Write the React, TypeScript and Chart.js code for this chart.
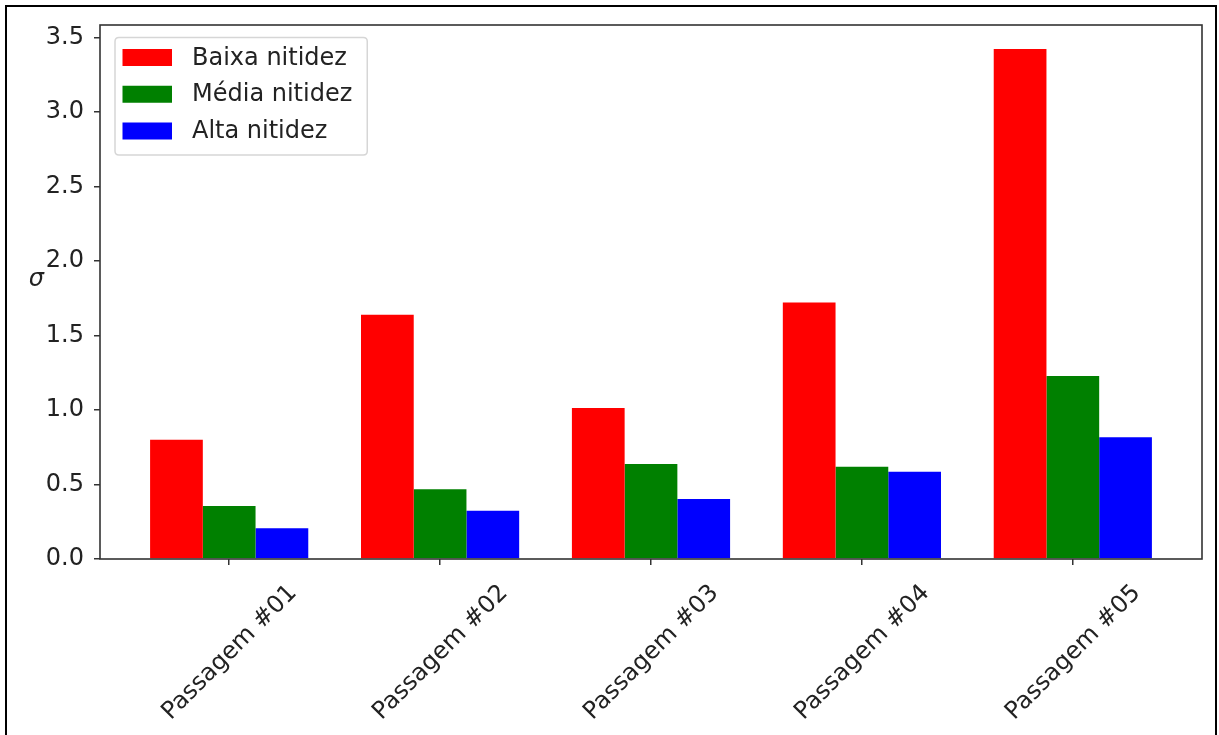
import React, { useEffect, useRef } from "react";
import { Chart, registerables } from "chart.js";

Chart.register(...registerables);

const CATEGORIES = ["Passagem #01", "Passagem #02", "Passagem #03", "Passagem #04", "Passagem #05"];
const BAIXA = [0.8, 1.64, 1.013, 1.722, 3.424];
const MEDIA = [0.355, 0.469, 0.637, 0.619, 1.229];
const ALTA = [0.206, 0.324, 0.402, 0.585, 0.818];
const SERIES_LABELS = ["Baixa nitidez", "Média nitidez", "Alta nitidez"];
const SERIES_COLORS = ["#ff0000", "#008000", "#0000ff"];
const Y_TICKS = [0, 0.5, 1.0, 1.5, 2.0, 2.5, 3.0, 3.5];
const Y_LABEL = "σ";

const FONT = '"DejaVu Sans", sans-serif';
const FS = 24;

const decorPlugin = {
  id: "decor",
  afterDatasetsDraw(chart: any) {
    const { ctx, chartArea: a } = chart;
    ctx.save();
    // spines
    ctx.strokeStyle = "#333";
    ctx.lineWidth = 1.6;
    ctx.strokeRect(a.left, a.top, a.right - a.left, a.bottom - a.top);

    // legend
    ctx.font = `${FS}px ${FONT}`;
    const ds = chart.data.datasets;
    const bx = a.left + 15;
    const by = a.top + 12.5;
    let maxW = 0;
    ds.forEach((d: any) => {
      maxW = Math.max(maxW, ctx.measureText(d.label).width);
    });
    const textX = bx + 77;
    const bw = 77 + maxW + 15;
    const rowH = 36.75;
    const bh = 20 + rowH * (ds.length - 1) + 24;
    ctx.beginPath();
    const r = 4;
    ctx.moveTo(bx + r, by);
    ctx.lineTo(bx + bw - r, by);
    ctx.quadraticCurveTo(bx + bw, by, bx + bw, by + r);
    ctx.lineTo(bx + bw, by + bh - r);
    ctx.quadraticCurveTo(bx + bw, by + bh, bx + bw - r, by + bh);
    ctx.lineTo(bx + r, by + bh);
    ctx.quadraticCurveTo(bx, by + bh, bx, by + bh - r);
    ctx.lineTo(bx, by + r);
    ctx.quadraticCurveTo(bx, by, bx + r, by);
    ctx.closePath();
    ctx.fillStyle = "rgba(255,255,255,0.8)";
    ctx.fill();
    ctx.strokeStyle = "#d6d6d6";
    ctx.lineWidth = 1.5;
    ctx.stroke();
    ds.forEach((d: any, i: number) => {
      const cy = by + 20 + rowH * i;
      ctx.fillStyle = d.backgroundColor;
      ctx.fillRect(bx + 7.5, cy - 8.5, 49.5, 17);
      ctx.fillStyle = "#222";
      ctx.textAlign = "left";
      ctx.textBaseline = "middle";
      ctx.fillText(d.label, textX, cy + 1);
    });

    // y label
    ctx.font = `italic ${FS}px ${FONT}`;
    ctx.fillStyle = "#222";
    ctx.textAlign = "right";
    ctx.textBaseline = "alphabetic";
    ctx.fillText(Y_LABEL, a.left - 56, (a.top + a.bottom) / 2 - 6);
    ctx.restore();
  },
};

export default function App() {
  const ref = useRef<HTMLCanvasElement | null>(null);

  useEffect(() => {
    document.body.style.margin = "0";
    document.documentElement.style.overflow = "hidden";
    document.body.style.overflow = "hidden";
    const canvas = ref.current;
    if (!canvas) return;
    const seriesValues = [BAIXA, MEDIA, ALTA];
    const chart = new Chart(canvas, {
      type: "bar",
      data: {
        datasets: seriesValues.map((vals, si) => ({
          label: SERIES_LABELS[si],
          data: vals.map((v, i) => ({ x: i, y: v })),
          backgroundColor: SERIES_COLORS[si],
          borderWidth: 0,
          categoryPercentage: 0.75,
          barPercentage: 1.0,
        })),
      },
      options: {
        animation: false,
        responsive: false,
        devicePixelRatio: 1,
        layout: { padding: { top: 25, right: 17, left: 0, bottom: 0 }, autoPadding: false },
        plugins: { legend: { display: false }, tooltip: { enabled: false } },
        scales: {
          x: {
            type: "linear",
            offset: false,
            min: -0.6125,
            max: 4.6125,
            afterBuildTicks: (scale: any) => {
              scale.ticks = CATEGORIES.map((_, i) => ({ value: i }));
            },
            afterFit: (scale: any) => {
              scale.height = 176;
            },
            grid: {
              offset: false,
              drawOnChartArea: false,
              drawTicks: true,
              tickLength: 6,
              color: "#333",
              lineWidth: 1.5,
            },
            border: { display: false },
            ticks: {
              autoSkip: false,
              minRotation: 45,
              maxRotation: 45,
              labelOffset: 64,
              padding: 14,
              color: "#222",
              font: { family: FONT, size: FS },
              callback: (_v: any, i: number) => CATEGORIES[i],
            },
          },
          y: {
            type: "linear",
            min: 0,
            max: 3.585,
            afterBuildTicks: (scale: any) => {
              scale.ticks = Y_TICKS.map((v) => ({ value: v }));
            },
            afterFit: (scale: any) => {
              scale.width = 100;
            },
            grid: {
              drawOnChartArea: false,
              drawTicks: true,
              tickLength: 6,
              color: "#333",
              lineWidth: 1.5,
            },
            border: { display: false },
            ticks: {
              padding: 10,
              color: "#222",
              font: { family: FONT, size: FS },
              callback: (v: any) => Number(v).toFixed(1),
            },
          },
        },
      },
      plugins: [decorPlugin],
    } as any);
    return () => chart.destroy();
  }, []);

  return (
    <div>
      <div
        style={{
          position: "fixed",
          left: 5,
          top: 5,
          width: 1212,
          height: 800,
          border: "2px solid #000",
          boxSizing: "border-box",
        }}
      />
      <canvas
        ref={ref}
        width={1219}
        height={735}
        style={{ position: "fixed", left: 0, top: 0, width: 1219, height: 735 }}
      />
    </div>
  );
}
